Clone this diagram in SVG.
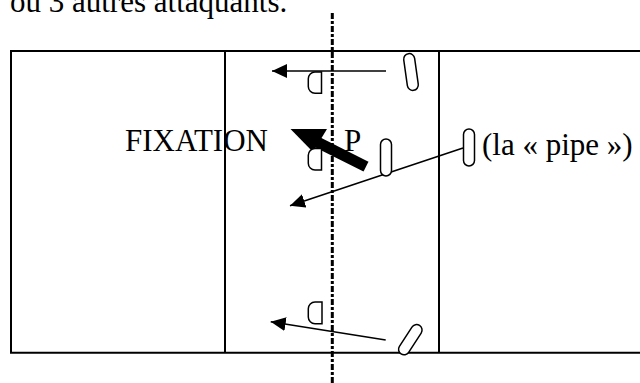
<svg xmlns="http://www.w3.org/2000/svg" width="640" height="383" viewBox="0 0 640 383">
<style>
.court{fill:none;stroke:#000;stroke-width:2}
.player{fill:#fff;stroke:#000;stroke-width:1.5}
.block{fill:#fff;stroke:#000;stroke-width:1.5}
.arr{fill:none;stroke:#000;stroke-width:1.6}
.lbl{font-family:"Liberation Serif","Times New Roman",serif;font-size:31px;fill:#000}
</style>
<defs>
<marker id="ah" viewBox="0 -7 15 14" refX="15" refY="0" markerWidth="15" markerHeight="14" markerUnits="userSpaceOnUse" orient="auto">
<path d="M0,-7 L15,0 L0,7 Z" fill="#000"/>
</marker>
</defs>
<rect width="640" height="383" fill="#fff"/>
<text class="lbl" x="10" y="12">ou 3 autres attaquants.</text>
<g id="court">
<path class="court" d="M640,51 H11 V352.7 H640"/>
<line class="court" x1="225" y1="51" x2="225" y2="352.7"/>
<line class="court" x1="439" y1="51" x2="439" y2="352.7"/>
</g>
<line id="net" x1="332.3" y1="13" x2="332.3" y2="383" stroke="#000" stroke-width="3" stroke-dasharray="6 2 3 2"/>
<g id="connectors">
<line class="arr" x1="386" y1="71" x2="272" y2="71" marker-end="url(#ah)"/>
<line class="arr" x1="463" y1="148" x2="290" y2="205.7" marker-end="url(#ah)"/>
<line class="arr" x1="385.7" y1="340" x2="270.7" y2="321.7" marker-end="url(#ah)"/>
<g id="fixation-arrow">
<line x1="366" y1="166.7" x2="314" y2="140.5" stroke="#000" stroke-width="11"/>
<polygon points="290.5,129 327,129 313,152" fill="#000"/>
</g>
</g>
<g id="blocker1"><path class="block" d="M321.5,72 V93.3 H315 A6.7,6.7 0 0 1 308.3,86.6 V78.7 A6.7,6.7 0 0 1 315,72 Z"/></g>
<g id="blocker2"><path class="block" d="M321.5,148.5 V170 H315 A6.7,6.7 0 0 1 308.3,163.3 V155.2 A6.7,6.7 0 0 1 315,148.5 Z"/></g>
<g id="blocker3"><path class="block" d="M322,302 V323.8 H315 A6.7,6.7 0 0 1 308.3,317.1 V308.7 A6.7,6.7 0 0 1 315,302 Z"/></g>
<g id="attacker1"><rect class="player" x="-5.5" y="-18.5" width="11" height="37" rx="5.5" transform="translate(411,72) rotate(-8)"/></g>
<g id="attacker2"><rect class="player" x="-5.5" y="-18.5" width="11" height="37" rx="5.5" transform="translate(386,157.5)"/></g>
<g id="pipe"><rect class="player" x="-5.5" y="-18.5" width="11" height="37" rx="5.5" transform="translate(469,147.5)"/></g>
<g id="attacker4"><rect class="player" x="-5.5" y="-17" width="11" height="34" rx="5.5" transform="translate(410.3,339.7) rotate(33)"/></g>
<text class="lbl" x="125" y="151">FIXATION</text>
<text class="lbl" x="344" y="151">P</text>
<text class="lbl" x="482" y="155">(la « pipe »)</text>
</svg>
